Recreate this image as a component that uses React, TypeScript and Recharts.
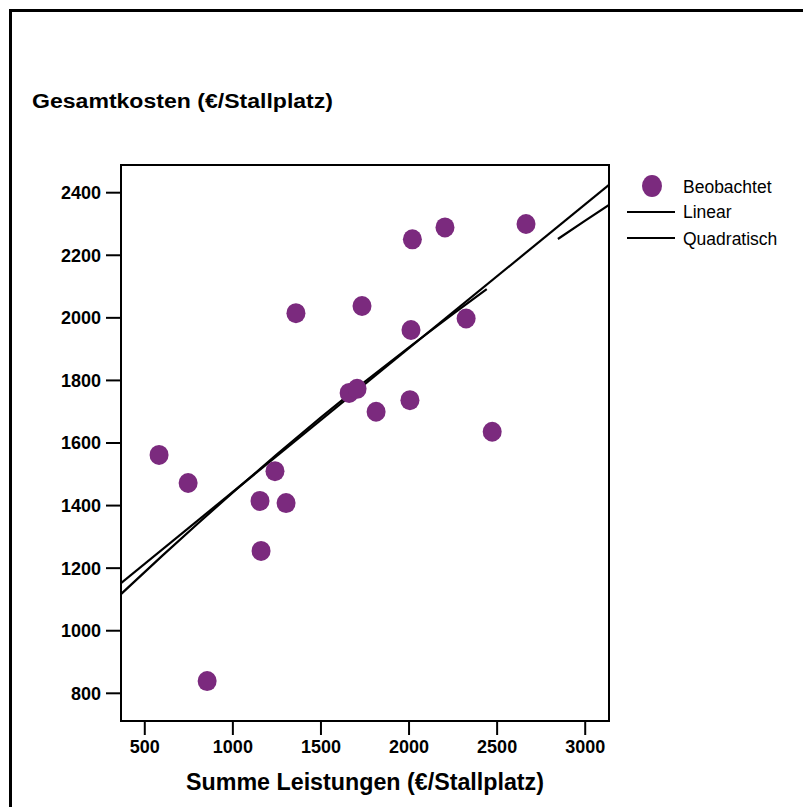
import { ComposedChart, Scatter, Line, XAxis, YAxis, ReferenceArea } from "recharts"

const FONT = '"Liberation Sans", Arial, sans-serif'
const PURPLE = "#7b2a7e"

// observed points (Summe Leistungen, Gesamtkosten)
const obsX = [581, 746, 854, 1154, 1160, 1239, 1302, 1358, 1733, 1660, 1705, 1813, 2005, 2011, 2019, 2204, 2324, 2472, 2664]
const obsY = [1562, 1472, 839, 1415, 1255, 1510, 1408, 2015, 2038, 1760, 1773, 1700, 1737, 1961, 2251, 2289, 1998, 1636, 2300]

// linear fit, read at the plot edges
const linX = [365, 3135]
const linY = [1152, 2425]

// quadratic fit (null = gap in the drawn line)
const quadX = [365, 600, 800, 1000, 1250, 1500, 1750, 2000, 2250, 2441, 2600, 2845, 3000, 3135]
const quadY = [1117, 1240, 1342, 1442, 1564, 1682, 1796, 1906, 2013, 2092, null, 2252, 2311, 2361]

const xTicks = [500, 1000, 1500, 2000, 2500, 3000]
const yTicks = [800, 1000, 1200, 1400, 1600, 1800, 2000, 2200, 2400]

const observed = obsX.map((x, i) => ({ x, y: obsY[i] }))
const linearData = linX.map((x, i) => ({ x, y: linY[i] }))
const quadData = quadX.map((x, i) => ({ x, y: quadY[i] }))

const X_DOMAIN: [number, number] = [365, 3135]
const Y_DOMAIN: [number, number] = [711.5, 2488.5]

const Dot = (props: any) => <ellipse cx={props.cx} cy={props.cy} rx={9.5} ry={10} fill={PURPLE} />

const tickStyle = { fill: "#000", fontSize: 18, fontWeight: "bold", fontFamily: FONT }

export default function App() {
  return (
    <div style={{ position: "absolute", left: 0, top: 0, width: 803, height: 807, background: "#fff", overflow: "hidden" }}>
      <div
        style={{
          position: "absolute",
          left: 9,
          top: 9,
          right: -10,
          bottom: -10,
          borderTop: "3px solid #000",
          borderLeft: "3px solid #000",
        }}
      />
      <div style={{ position: "absolute", left: 0, top: 0 }}>
        <ComposedChart width={803} height={807} margin={{ top: 165, right: 194, bottom: 0, left: 0 }}>
          <XAxis
            type="number"
            dataKey="x"
            domain={X_DOMAIN}
            ticks={xTicks}
            allowDataOverflow
            height={86}
            tickSize={14}
            tickMargin={5}
            stroke="#000"
            axisLine={{ strokeWidth: 2 }}
            tickLine={{ strokeWidth: 2 }}
            tick={tickStyle}
          />
          <YAxis
            type="number"
            dataKey="y"
            domain={Y_DOMAIN}
            ticks={yTicks}
            allowDataOverflow
            width={121}
            tickSize={15}
            tickMargin={5}
            stroke="#000"
            axisLine={{ strokeWidth: 2 }}
            tickLine={{ strokeWidth: 2 }}
            tick={tickStyle}
          />
          <ReferenceArea
            x1={X_DOMAIN[0]}
            x2={X_DOMAIN[1]}
            y1={Y_DOMAIN[0]}
            y2={Y_DOMAIN[1]}
            fill="none"
            stroke="#000"
            strokeWidth={2}
            fillOpacity={0}
          />
          <Scatter data={observed} shape={Dot} isAnimationActive={false} />
          <Line
            data={linearData}
            dataKey="y"
            type="linear"
            stroke="#000"
            strokeWidth={2.2}
            dot={false}
            activeDot={false}
            isAnimationActive={false}
          />
          <Line
            data={quadData}
            dataKey="y"
            type="linear"
            stroke="#000"
            strokeWidth={2.2}
            dot={false}
            activeDot={false}
            connectNulls={false}
            isAnimationActive={false}
          />
        </ComposedChart>
      </div>
      <svg width={803} height={807} style={{ position: "absolute", left: 0, top: 0, pointerEvents: "none" }}>
        <text x={32} y={108} fontFamily={FONT} fontWeight="bold" fontSize={20} textLength={301} lengthAdjust="spacingAndGlyphs">
          Gesamtkosten (€/Stallplatz)
        </text>
        <text x={186} y={790} fontFamily={FONT} fontWeight="bold" fontSize={23} textLength={358} lengthAdjust="spacingAndGlyphs">
          Summe Leistungen (€/Stallplatz)
        </text>
        <g fontFamily={FONT} fontSize={17.5} fill="#000">
          <ellipse cx={652} cy={186} rx={10} ry={11} fill={PURPLE} />
          <text x={683} y={193}>Beobachtet</text>
          <line x1={627} x2={675} y1={212} y2={212} stroke="#000" strokeWidth={2} />
          <text x={683} y={218}>Linear</text>
          <line x1={627} x2={675} y1={238} y2={238} stroke="#000" strokeWidth={2} />
          <text x={683} y={244.5}>Quadratisch</text>
        </g>
      </svg>
    </div>
  )
}
